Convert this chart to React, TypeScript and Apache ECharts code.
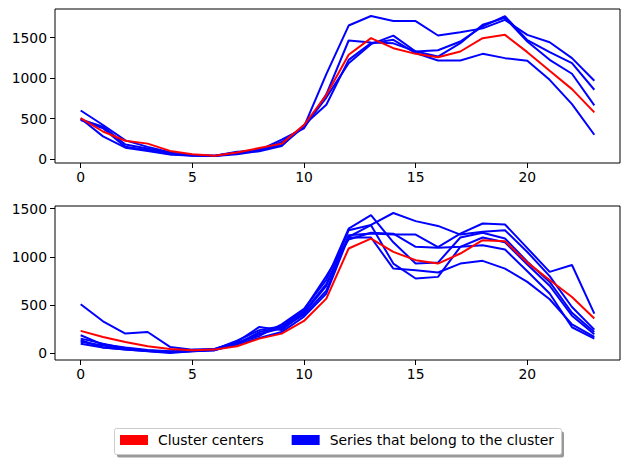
import React, { useEffect, useRef } from "react";
import * as echarts from "echarts";

const HOURS = [0, 1, 2, 3, 4, 5, 6, 7, 8, 9, 10, 11, 12, 13, 14, 15, 16, 17, 18, 19, 20, 21, 22, 23];
const X_TICKS = [0, 5, 10, 15, 20];
const Y_TICKS = [0, 500, 1000, 1500];

const CENTER_LABEL = "Cluster centers";
const MEMBER_LABEL = "Series that belong to the cluster";

// Cluster 1 (top panel)
const TOP_CENTER = [506, 340, 226, 190, 100, 60, 40, 80, 135, 190, 420, 790, 1288, 1494, 1370, 1300, 1259, 1329, 1494, 1535, 1321, 1091, 864, 576];
const TOP_A = [600, 420, 230, 150, 85, 50, 38, 60, 100, 210, 400, 1050, 1650, 1768, 1705, 1705, 1527, 1568, 1615, 1720, 1535, 1444, 1247, 967];
const TOP_B = [490, 400, 180, 130, 70, 45, 37, 70, 110, 240, 380, 800, 1465, 1440, 1430, 1330, 1345, 1453, 1640, 1765, 1470, 1321, 1185, 856];
const TOP_C = [480, 380, 150, 110, 60, 42, 40, 80, 120, 170, 400, 760, 1185, 1420, 1525, 1329, 1267, 1432, 1660, 1745, 1453, 1226, 1054, 663];
const TOP_D = [500, 280, 140, 100, 55, 40, 40, 90, 95, 160, 420, 670, 1226, 1432, 1473, 1309, 1218, 1218, 1300, 1247, 1214, 979, 679, 300];

// Cluster 2 (bottom panel)
const BOT_CENTER = [232, 169, 118, 73, 45, 31, 38, 73, 152, 204, 335, 567, 1086, 1189, 1051, 965, 930, 1034, 1172, 1162, 940, 760, 584, 360];
const BOT_1 = [508, 332, 204, 221, 66, 38, 45, 110, 180, 300, 460, 760, 1293, 1431, 1150, 930, 940, 1200, 1250, 1190, 950, 740, 420, 221];
const BOT_2 = [120, 80, 50, 30, 15, 30, 45, 120, 273, 240, 420, 700, 1276, 1330, 1454, 1370, 1320, 1230, 1260, 1276, 1050, 800, 480, 245];
const BOT_3 = [100, 60, 40, 25, 15, 25, 40, 100, 200, 260, 400, 650, 1224, 1241, 1230, 1230, 1100, 1240, 1345, 1335, 1090, 844, 915, 411];
const BOT_4 = [135, 60, 40, 20, 3, 20, 35, 90, 160, 220, 380, 620, 1207, 1328, 930, 775, 792, 1103, 1200, 1150, 920, 700, 390, 197];
const BOT_5 = [152, 100, 50, 25, 10, 20, 30, 100, 220, 270, 430, 720, 1200, 1200, 878, 861, 837, 930, 958, 878, 740, 560, 300, 169];
const BOT_6 = [187, 90, 60, 35, 20, 25, 40, 130, 240, 280, 450, 800, 1180, 1250, 1240, 1103, 1093, 1103, 1120, 1075, 850, 620, 270, 152];

const TOP_MEMBERS = [TOP_A, TOP_B, TOP_C, TOP_D];
const BOT_MEMBERS = [BOT_1, BOT_2, BOT_3, BOT_4, BOT_5, BOT_6];

const FONT = "DejaVu Sans";
const FS = 13.9;

function padRange(all: number[][]) {
  const flat = all.flat();
  const lo = Math.min(...flat);
  const hi = Math.max(...flat);
  const m = (hi - lo) * 0.05;
  return { min: lo - m, max: hi + m };
}

export default function App() {
  const ref = useRef<HTMLDivElement>(null);
  useEffect(() => {
    if (!ref.current) return;
    const chart = echarts.init(ref.current, undefined, { renderer: "svg" });
    const xr = padRange([HOURS]);
    const topR = padRange([TOP_CENTER, ...TOP_MEMBERS]);
    const botR = padRange([BOT_CENTER, ...BOT_MEMBERS]);

    const mkX = (gi: number) => ({
      type: "value",
      gridIndex: gi,
      min: xr.min,
      max: xr.max,
      splitLine: { show: false },
      axisLine: { show: false, onZero: false },
      axisTick: { show: true, length: 5, customValues: X_TICKS, lineStyle: { color: "#000", width: 1 } },
      axisLabel: { customValues: X_TICKS, margin: 7, color: "#000", fontFamily: FONT, fontSize: FS, formatter: (v: number) => String(v) },
    });
    const mkY = (gi: number, r: { min: number; max: number }) => ({
      type: "value",
      gridIndex: gi,
      min: r.min,
      max: r.max,
      splitLine: { show: false },
      axisLine: { show: false, onZero: false },
      axisTick: { show: true, length: 5, customValues: Y_TICKS, lineStyle: { color: "#000", width: 1 } },
      axisLabel: { customValues: Y_TICKS, margin: 8, color: "#000", fontFamily: FONT, fontSize: FS, formatter: (v: number) => String(v) },
    });

    const mkSeries = (name: string, data: number[], color: string, gi: number) => ({
      type: "line",
      name,
      xAxisIndex: gi,
      yAxisIndex: gi,
      data: HOURS.map((h, i) => [h, data[i]]),
      showSymbol: false,
      symbol: "none",
      lineStyle: { color, width: 2 },
      itemStyle: { color },
      color,
      silent: true,
    });

    const series: any[] = [];
    TOP_MEMBERS.forEach((d) => series.push(mkSeries(MEMBER_LABEL, d, "#0000ff", 0)));
    series.push(mkSeries(CENTER_LABEL, TOP_CENTER, "#ff0000", 0));
    BOT_MEMBERS.forEach((d) => series.push(mkSeries(MEMBER_LABEL, d, "#0000ff", 1)));
    series.push(mkSeries(CENTER_LABEL, BOT_CENTER, "#ff0000", 1));

    chart.setOption({
      animation: false,
      backgroundColor: "#ffffff",
      grid: [
        { left: 55, top: 9, width: 565, height: 154, show: true, borderColor: "#000", borderWidth: 1, backgroundColor: "transparent" },
        { left: 55, top: 206, width: 565, height: 154, show: true, borderColor: "#000", borderWidth: 1, backgroundColor: "transparent" },
      ],
      xAxis: [mkX(0), mkX(1)],
      yAxis: [mkY(0, topR), mkY(1, botR)],
      legend: {
        data: [CENTER_LABEL, MEMBER_LABEL],
        left: 120,
        top: 433,
        padding: 0,
        icon: "rect",
        itemWidth: 28,
        itemHeight: 10,
        itemGap: 28,
        selectedMode: false,
        textStyle: { color: "#000", fontFamily: FONT, fontSize: FS, padding: [0, 0, 0, 5] },
      },
      graphic: [
        { type: "rect", z: 0, shape: { x: 117, y: 431.5, width: 447, height: 26, r: 2 }, style: { fill: "rgba(0,0,0,0.4)" } },
        { type: "rect", z: 1, shape: { x: 114.5, y: 428.5, width: 447, height: 26, r: 2 }, style: { fill: "#ffffff", stroke: "#cccccc", lineWidth: 1 } },
      ],
      series,
    });
    return () => chart.dispose();
  }, []);
  return <div ref={ref} style={{ position: "fixed", left: 0, top: 0, width: 630, height: 464 }} />;
}
